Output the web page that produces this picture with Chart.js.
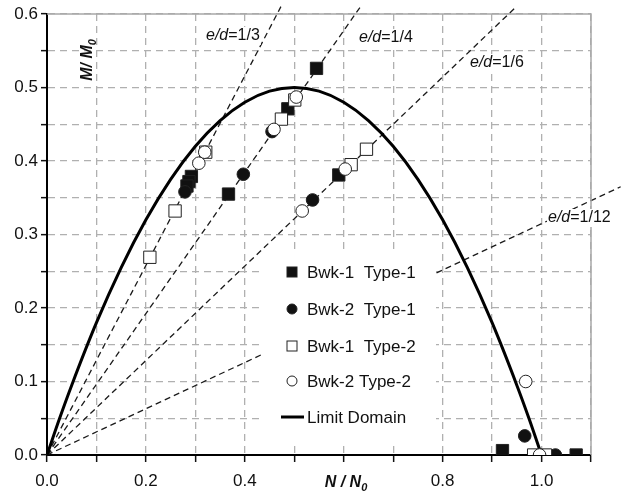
<!DOCTYPE html>
<html>
<head>
<meta charset="utf-8">
<style>
  html, body { margin: 0; padding: 0; background: #fff; }
  #wrap { width: 622px; height: 493px; }
</style>
<script src="https://cdn.jsdelivr.net/npm/chart.js@4.4.0/dist/chart.umd.min.js"></script>
</head>
<body>
<div id="wrap"><canvas id="chart" width="622" height="493"></canvas></div>
<script>
// ===== data (N/N0, M/M0) =====
const seriesNames = ['Bwk-1  Type-1', 'Bwk-2  Type-1', 'Bwk-1  Type-2', 'Bwk-2 Type-2', 'Limit Domain'];

const bwk1Type1N = [0.545, 0.487, 0.292, 0.287, 0.283, 0.367, 0.590, 0.921, 1.070];
const bwk1Type1M = [0.526, 0.471, 0.379, 0.372, 0.366, 0.355, 0.381, 0.006, 0.000];

const bwk2Type1N = [0.279, 0.397, 0.455, 0.537, 0.966, 1.028];
const bwk2Type1M = [0.358, 0.382, 0.440, 0.347, 0.026, 0.000];

const bwk1Type2N = [0.208, 0.259, 0.321, 0.474, 0.501, 0.615, 0.646, 0.984, 1.008];
const bwk1Type2M = [0.269, 0.332, 0.412, 0.457, 0.483, 0.395, 0.416, 0.000, 0.000];

const bwk2Type2N = [0.307, 0.319, 0.459, 0.504, 0.516, 0.603, 0.968, 0.996];
const bwk2Type2M = [0.397, 0.412, 0.443, 0.487, 0.332, 0.389, 0.100, 0.000];

const limitN = [0, 0.025, 0.05, 0.1, 0.15, 0.2, 0.25, 0.3, 0.35, 0.4, 0.45, 0.5, 0.55, 0.6, 0.65, 0.7, 0.75, 0.8, 0.85, 0.9, 0.95, 0.975, 1.0];
const limitM = [0, 0.049, 0.095, 0.18, 0.255, 0.32, 0.375, 0.42, 0.455, 0.48, 0.495, 0.5, 0.495, 0.48, 0.455, 0.42, 0.375, 0.32, 0.255, 0.18, 0.095, 0.049, 0];

// eccentricity lines from the origin
const edNames = ['1/3', '1/4', '1/6', '1/12'];
const edEndN = [0.473, 0.636, 0.949, 1.160];
const edEndM = [0.610, 0.612, 0.610, 0.365];

const xTickLabels = ['0.0', '0.2', '0.4', '', '0.8', '1.0'];
const yTickLabels = ['0.0', '0.1', '0.2', '0.3', '0.4', '0.5', '0.6'];

const FONT = "'Liberation Sans', Arial, Helvetica, sans-serif";
const pts = (xs, ys) => xs.map((x, i) => ({ x, y: ys[i] }));

const markerSets = [
  { data: pts(bwk2Type2N, bwk2Type2M), pointStyle: 'circle', pointRadius: 6.3, bg: '#fff', order: 1 },
  { data: pts(bwk1Type2N, bwk1Type2M), pointStyle: 'rect', pointRadius: 8.7, bg: '#fff', order: 2 },
  { data: pts(bwk2Type1N, bwk2Type1M), pointStyle: 'circle', pointRadius: 6.3, bg: '#111', order: 3 },
  { data: pts(bwk1Type1N, bwk1Type1M), pointStyle: 'rect', pointRadius: 8.7, bg: '#111', order: 4 }
];
const markerLabels = [seriesNames[3], seriesNames[2], seriesNames[1], seriesNames[0]];

const datasets = markerSets.map((s, i) => ({
  label: markerLabels[i],
  data: s.data,
  showLine: false,
  pointStyle: s.pointStyle,
  pointRadius: s.pointRadius,
  pointHoverRadius: s.pointRadius,
  pointBackgroundColor: s.bg,
  pointBorderColor: '#222',
  pointBorderWidth: 1,
  order: s.order
}));

datasets.push({
  label: seriesNames[4],
  data: pts(limitN, limitM),
  showLine: true,
  borderColor: '#000',
  borderWidth: 3,
  pointRadius: 0,
  cubicInterpolationMode: 'monotone',
  order: 5
});

edNames.forEach((name, i) => {
  datasets.push({
    label: 'e/d=' + name,
    data: [{ x: 0, y: 0 }, { x: edEndN[i], y: edEndM[i] }],
    showLine: true,
    borderColor: '#1a1a1a',
    borderWidth: 1.3,
    borderDash: [6, 4],
    pointRadius: 0,
    clip: false,
    order: 6
  });
});

// frame, legend box and all free text
const decorations = {
  id: 'decorations',
  afterDatasetsDraw(chart) {
    const { ctx, chartArea: a } = chart;
    ctx.save();

    // grey top / right frame
    ctx.strokeStyle = '#a8a8a8';
    ctx.lineWidth = 1.5;
    ctx.setLineDash([]);
    ctx.beginPath();
    ctx.moveTo(a.left, a.top);
    ctx.lineTo(a.right, a.top);
    ctx.lineTo(a.right, a.bottom);
    ctx.stroke();

    // e/d labels on white patches
    const edPos = [[206, 36], [359, 38], [470, 63], [548, 218]];
    edNames.forEach((name, i) => {
      const [x, y] = edPos[i];
      ctx.font = 'italic 16px ' + FONT;
      const w1 = ctx.measureText('e/d').width;
      ctx.font = '16px ' + FONT;
      const w2 = ctx.measureText('=' + name).width;
      ctx.fillStyle = '#fff';
      ctx.fillRect(x - 1, y - 9, w1 + w2 + 2, 18);
      ctx.fillStyle = '#111';
      ctx.textBaseline = 'middle';
      ctx.textAlign = 'left';
      ctx.font = 'italic 16px ' + FONT;
      ctx.fillText('e/d', x, y);
      ctx.font = '16px ' + FONT;
      ctx.fillText('=' + name, x + w1, y);
    });

    // legend
    ctx.fillStyle = '#fff';
    ctx.fillRect(264, 254, 172, 188);
    const rows = [272, 309, 346, 381, 417];
    const mx = 292;
    rows.forEach((y, i) => {
      ctx.strokeStyle = '#222';
      ctx.lineWidth = 1;
      if (i === 0 || i === 2) {
        ctx.fillStyle = i === 0 ? '#111' : '#fff';
        ctx.fillRect(mx - 5, y - 5, 10, 10);
        ctx.strokeRect(mx - 5, y - 5, 10, 10);
      } else if (i === 1 || i === 3) {
        ctx.fillStyle = i === 1 ? '#111' : '#fff';
        ctx.beginPath();
        ctx.arc(mx, y, 5, 0, Math.PI * 2);
        ctx.fill();
        ctx.stroke();
      } else {
        ctx.strokeStyle = '#000';
        ctx.lineWidth = 3;
        ctx.beginPath();
        ctx.moveTo(281, y);
        ctx.lineTo(304, y);
        ctx.stroke();
      }
      ctx.fillStyle = '#111';
      ctx.font = '17px ' + FONT;
      ctx.textAlign = 'left';
      ctx.textBaseline = 'middle';
      ctx.fillText(seriesNames[i], 307, y + 1);
    });

    // axis titles
    const title = (main, sub, cx, cy, rot) => {
      ctx.save();
      ctx.translate(cx, cy);
      if (rot) ctx.rotate(-Math.PI / 2);
      ctx.font = 'bold italic 16px ' + FONT;
      const w1 = ctx.measureText(main).width;
      ctx.font = 'bold italic 11px ' + FONT;
      const w2 = ctx.measureText(sub).width;
      const x0 = -(w1 + w2) / 2;
      ctx.fillStyle = '#111';
      ctx.textAlign = 'left';
      ctx.textBaseline = 'alphabetic';
      ctx.font = 'bold italic 16px ' + FONT;
      ctx.fillText(main, x0, 6);
      ctx.font = 'bold italic 11px ' + FONT;
      ctx.fillText(sub, x0 + w1, 10);
      ctx.restore();
    };
    title('N / N', '0', 346, 481, false);
    title('M/ M', '0', 86, 60, true);

    ctx.restore();
  }
};

new Chart(document.getElementById('chart'), {
  type: 'scatter',
  data: { datasets },
  options: {
    responsive: false,
    animation: false,
    layout: { padding: { top: 14, right: 31, left: 0, bottom: 0 } },
    plugins: { legend: { display: false }, tooltip: { enabled: false } },
    scales: {
      x: {
        type: 'linear',
        min: 0,
        max: 1.1,
        afterFit: (s) => { s.height = 38; },
        ticks: {
          stepSize: 0.1,
          autoSkip: false,
          maxRotation: 0,
          padding: 9,
          color: '#111',
          font: { family: FONT, size: 17 },
          callback: (v) => {
            const k = Math.round(v * 10);
            return k % 2 || k > 10 ? '' : xTickLabels[k / 2];
          }
        },
        grid: {
          color: (c) => (c.tick && Math.round(c.tick.value * 10) === 0) ? 'rgba(0,0,0,0)' : '#b0b0b0',
          lineWidth: 1.3,
          tickColor: '#111',
          tickLength: 7,
          tickWidth: 1.5
        },
        border: { display: true, color: '#000', width: 2, dash: [7, 5] }
      },
      y: {
        type: 'linear',
        min: 0,
        max: 0.6,
        afterFit: (s) => { s.width = 47; },
        ticks: {
          stepSize: 0.05,
          autoSkip: false,
          padding: 3,
          color: '#111',
          font: { family: FONT, size: 17 },
          callback: (v) => {
            const k = Math.round(v * 20);
            return k % 2 ? '' : yTickLabels[k / 2];
          }
        },
        grid: {
          color: (c) => (c.tick && Math.round(c.tick.value * 20) === 0) ? 'rgba(0,0,0,0)' : '#b0b0b0',
          lineWidth: 1.3,
          tickColor: '#111',
          tickLength: 6,
          tickWidth: 1.5
        },
        border: { display: true, color: '#000', width: 2, dash: [7, 5] }
      }
    }
  },
  plugins: [decorations]
});
</script>
</body>
</html>
